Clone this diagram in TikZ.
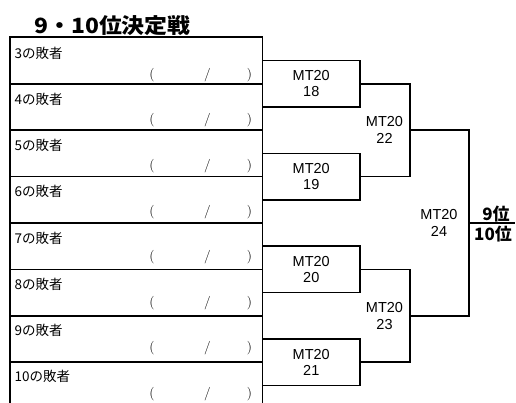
\documentclass[tikz,border=0pt]{standalone}
\usepackage{fontspec}
\newfontfamily\jp{Noto Sans CJK JP}
\newfontfamily\ar{Liberation Sans}
\begin{document}
\begin{tikzpicture}[x=1pt,y=-1pt,
  tline/.style={line width=1.8pt},
  rowbox/.style={draw, line width=1.8pt, minimum width=252.5pt, minimum height=46.43pt, inner sep=0pt},
  mbox/.style={draw, line width=1.6pt, minimum width=97.5pt, minimum height=46.43pt, inner sep=0pt, font=\ar\fontsize{14.5}{16.6}\selectfont, align=center},
  mlabel/.style={inner sep=0pt, font=\ar\fontsize{14.5}{16.6}\selectfont, align=center},
  lose/.style={font=\jp\fontsize{13.5}{16}\selectfont, anchor=west, inner sep=0pt},
  paren/.style={font=\fontsize{13.5}{16}\selectfont, inner sep=0pt},
  rank/.style={font=\jp\bfseries\fontsize{17}{20}\selectfont, inner sep=0pt},
]
\useasboundingbox (0,0) rectangle (516,403);
% title
\node[font=\jp\bfseries\fontsize{21}{24}\selectfont, inner sep=0pt] (title) at (112.5,25.5) {\scalebox{1.09}[1]{9・10位決定戦}};
% rows
\foreach \n [count=\k from 0] in {3,...,10} {
  \pgfmathsetmacro\cy{60.5+46.43*\k}
  \pgfmathsetmacro\ly{53+46.24*\k}
  \pgfmathsetmacro\py{75+45.57*\k}
  \node[rowbox] (r\n) at (136.25,\cy) {};
  \node[lose] (l\n) at (14.5,\ly) {\n の敗者};
  \node[paren] (po\n) at (152,\py) {(};
  \node[paren] (ps\n) at (207.5,\py) {/};
  \node[paren] (pc\n) at (249.5,\py) {)};
}
% first round boxes
\node[mbox] (m18) at (311.25,83.7) {MT20\\18};
\node[mbox] (m19) at (311.25,176.6) {MT20\\19};
\node[mbox] (m20) at (311.25,269.4) {MT20\\20};
\node[mbox] (m21) at (311.25,362.3) {MT20\\21};
% second round
\coordinate (j22) at (409,130.2);
\coordinate (j23) at (409,315.9);
\draw[tline] (m18.east) -- ++(49,0) |- (m19.east);
\draw[tline] (m20.east) -- ++(49,0) |- (m21.east);
\node[mlabel] (m22) at (384.5,130.2) {MT20\\22};
\node[mlabel] (m23) at (384.5,315.9) {MT20\\23};
% final
\coordinate (j24) at (469,223.1);
\coordinate (fin) at (515,223.1);
\draw[tline] (j22) -- ++(60,0) |- (j23);
\draw[tline] (j24) -- (fin);
\node[mlabel] (m24) at (439,223.1) {MT20\\24};
\node[rank] (p9) at (496,214) {9位};
\node[rank] (p10) at (493,234) {10位};
\end{tikzpicture}
\end{document}
